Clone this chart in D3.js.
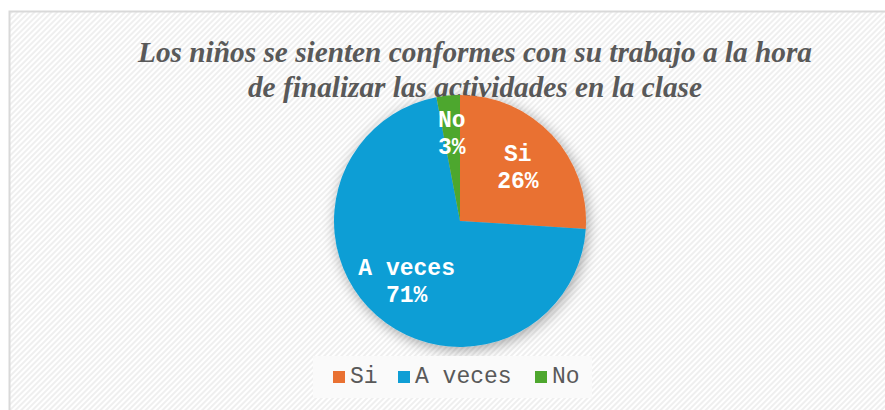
<!DOCTYPE html>
<html>
<head>
<meta charset="utf-8">
<script src="https://cdn.jsdelivr.net/npm/d3@7"></script>
<style>
  body { margin: 0; background: #fff; }
  #chart { width: 885px; height: 410px; }
</style>
</head>
<body>
<div id="chart"></div>
<script>
const categories = ["Si", "A veces", "No"];
const values = [26, 71, 3];
const colors = ["#E97132", "#0F9ED5", "#4EA72E"];
const titleLines = [
    "Los niños se sienten conformes con su trabajo a la hora",
    "de finalizar las actividades en la clase"
];

const width = 885, height = 410;
const cx = 460, cy = 221, radius = 126;
const monoFont = "'Liberation Mono', 'Courier New', monospace";

const svg = d3.select("#chart")
    .append("svg")
    .attr("width", width)
    .attr("height", height);

const defs = svg.append("defs");

// diagonal stripe background
const pat = defs.append("pattern")
    .attr("id", "stripes")
    .attr("width", 4)
    .attr("height", 4)
    .attr("patternUnits", "userSpaceOnUse")
    .attr("patternTransform", "rotate(45)");
pat.append("rect").attr("width", 4).attr("height", 4).attr("fill", "#ffffff");
pat.append("rect").attr("width", 2).attr("height", 4).attr("fill", "#efefef");

const glow = defs.append("filter")
    .attr("id", "glow")
    .attr("x", "-30%").attr("y", "-30%")
    .attr("width", "160%").attr("height", "160%");
glow.append("feGaussianBlur").attr("in", "SourceAlpha").attr("stdDeviation", 7).attr("result", "b");
glow.append("feOffset").attr("in", "b").attr("dx", 2).attr("dy", 3).attr("result", "o");
glow.append("feComponentTransfer").attr("in", "o").attr("result", "s")
    .append("feFuncA").attr("type", "linear").attr("slope", 0.35);
const gm = glow.append("feMerge");
gm.append("feMergeNode").attr("in", "s");
gm.append("feMergeNode").attr("in", "SourceGraphic");

svg.append("rect")
    .attr("x", 9.5).attr("y", 11.5)
    .attr("width", width + 10).attr("height", height + 10)
    .attr("fill", "url(#stripes)")
    .attr("stroke", "#d9d9d9")
    .attr("stroke-width", 2);

svg.append("text")
    .attr("y", 62)
    .attr("text-anchor", "middle")
    .attr("fill", "#595959")
    .style("font-family", "'Liberation Serif', 'Times New Roman', serif")
    .style("font-weight", "bold")
    .style("font-style", "italic")
    .style("font-size", "29.3px")
    .selectAll("tspan")
    .data(titleLines)
    .join("tspan")
    .attr("x", 475)
    .attr("dy", (d, i) => i === 0 ? 0 : 35)
    .text(d => d);

const pie = d3.pie().sort(null).value(d => d);
const arcs = pie(values);
const arc = d3.arc().innerRadius(0).outerRadius(radius);

const g = svg.append("g")
    .attr("transform", "translate(" + cx + "," + cy + ")");

g.append("g")
    .attr("filter", "url(#glow)")
    .selectAll("path")
    .data(arcs)
    .join("path")
    .attr("d", arc)
    .attr("fill", (d, i) => colors[i]);

// data labels, placed at a fraction of the radius along each slice
const labelRadius = [0.63, 0.64, 0.70];

const labels = g.selectAll("text.lbl")
    .data(arcs)
    .join("text")
    .attr("class", "lbl")
    .attr("transform", (d, i) => {
        const r = radius * labelRadius[i];
        const c = d3.arc().innerRadius(r).outerRadius(r).centroid(d);
        return "translate(" + c + ")";
    })
    .attr("text-anchor", "middle")
    .attr("fill", "#ffffff")
    .style("font-family", monoFont)
    .style("font-weight", "bold")
    .style("font-size", "23px");

labels.append("tspan")
    .attr("x", 0).attr("y", -6)
    .text((d, i) => categories[i]);
labels.append("tspan")
    .attr("x", 0).attr("y", 21)
    .text(d => d.data + "%");

// legend
const legend = svg.append("g");
legend.append("rect")
    .attr("x", 313).attr("y", 356)
    .attr("width", 279).attr("height", 42)
    .attr("fill", "#fafafa");

const legendX = [333, 398, 535];
const items = legend.selectAll("g.item")
    .data(categories)
    .join("g")
    .attr("class", "item")
    .attr("transform", (d, i) => "translate(" + legendX[i] + ",371)");

items.append("rect")
    .attr("width", 12).attr("height", 12)
    .attr("fill", (d, i) => colors[i]);

items.append("text")
    .attr("x", 17).attr("y", 12)
    .attr("fill", "#595959")
    .style("font-family", monoFont)
    .style("font-size", "23px")
    .text(d => d);
</script>
</body>
</html>
